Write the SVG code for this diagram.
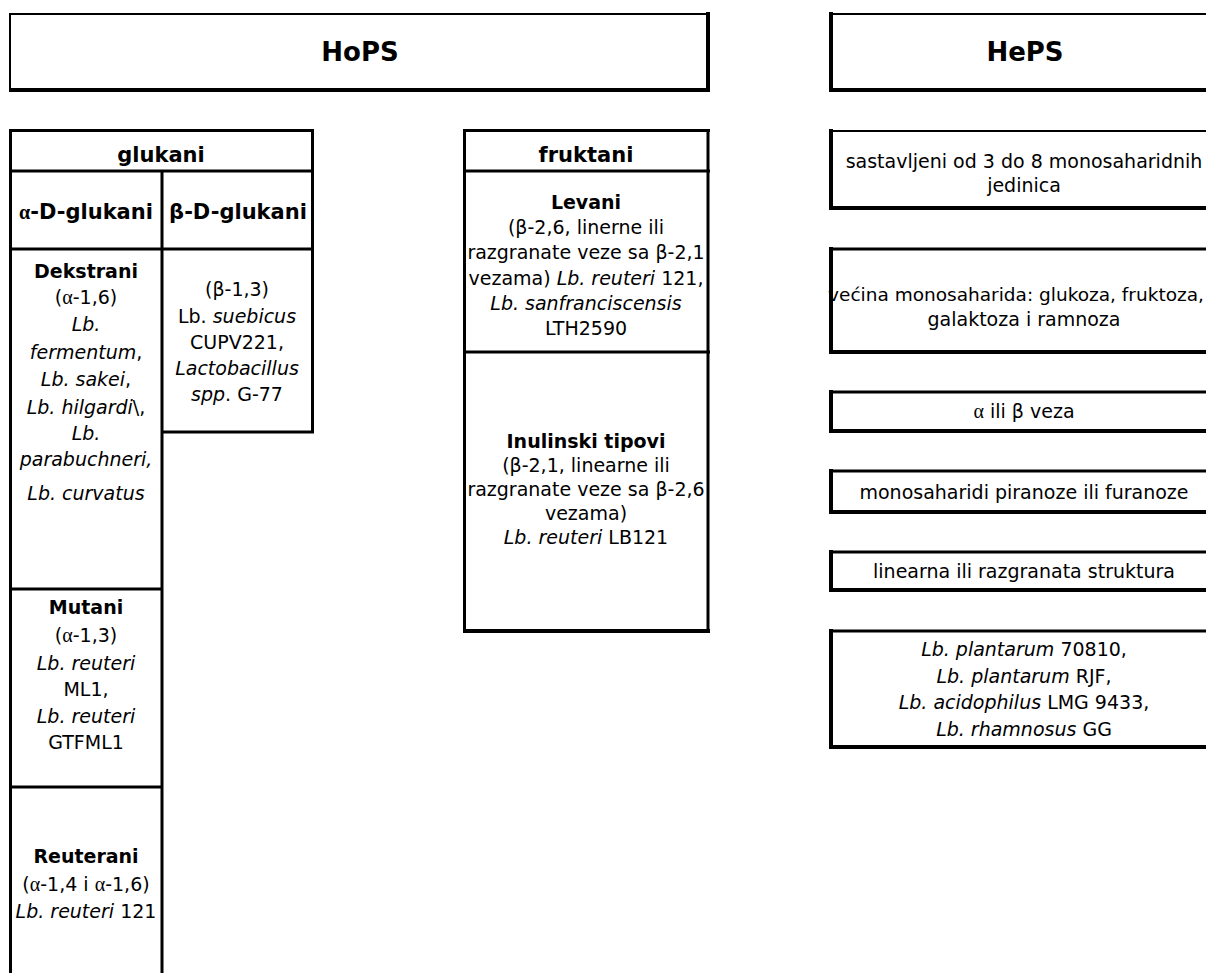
<svg xmlns="http://www.w3.org/2000/svg" width="1206" height="973" viewBox="0 0 1206 973">
<style>
text{font-family:"DejaVu Sans","Liberation Sans",sans-serif;font-size:19px;fill:#000;text-anchor:middle}
.b{font-weight:bold}
.h{font-weight:bold;font-size:21px}
.t{font-weight:bold;font-size:26px}
.i{font-style:italic}
.a{font-family:"Liberation Serif",serif;font-size:20px;font-style:normal}
.n{font-style:normal}
line,path{stroke:#000;fill:none}
.s2{stroke-width:2}
.s3{stroke-width:3}
.s4{stroke-width:4}
</style>
<rect width="1206" height="973" fill="#fff"/>

<g id="hops">
<path class="s2" d="M10 14H708M10 13V92"/>
<path class="s4" d="M708 12V92M9 90H710"/>
<text class="t" x="360" y="61">HoPS</text>
</g>

<g id="heps">
<path class="s2" d="M831 14H1220"/>
<path class="s4" d="M831 12V92M829 90H1220"/>
<text class="t" x="1025" y="61">HePS</text>
</g>

<g id="glukani">
<path class="s3" d="M9 130.5H314M10.5 129V973M312.5 129V433.5M9 171H314M9 249H314M162 171V973M162 432H314M9 589H163M9 787H163"/>
<text class="h" x="161" y="162">glukani</text>
</g>

<g id="alfa-d-glukani">
<text class="h" x="86" y="219"><tspan class="a">α</tspan>-D-glukani</text>
</g>

<g id="beta-d-glukani">
<text class="h" x="238" y="219">β-D-glukani</text>
</g>

<g id="dekstrani">
<text class="b" x="86" y="278">Dekstrani</text>
<text x="86" y="304">(<tspan class="a">α</tspan>-1,6)</text>
<text class="i" x="86" y="331">Lb.</text>
<text x="86" y="359"><tspan class="i">fermentum</tspan>,</text>
<text x="86" y="386"><tspan class="i">Lb. sakei</tspan>,</text>
<text x="86" y="414"><tspan class="i">Lb. hilgardi</tspan>\,</text>
<text class="i" x="86" y="440">Lb.</text>
<text class="i" x="86" y="466">parabuchneri,</text>
<text class="i" x="86" y="500">Lb. curvatus</text>
</g>

<g id="beta-glukani-vrste">
<text x="237" y="296">(β-1,3)</text>
<text x="237" y="323">Lb. <tspan class="i">suebicus</tspan></text>
<text x="237" y="349">CUPV221,</text>
<text class="i" x="237" y="375">Lactobacillus</text>
<text x="237" y="401"><tspan class="i">spp</tspan>. G-77</text>
</g>

<g id="mutani">
<text class="b" x="86" y="614">Mutani</text>
<text x="86" y="642">(<tspan class="a">α</tspan>-1,3)</text>
<text class="i" x="86" y="670">Lb. reuteri</text>
<text x="86" y="696">ML1,</text>
<text class="i" x="86" y="723">Lb. reuteri</text>
<text x="86" y="749">GTFML1</text>
</g>

<g id="reuterani">
<text class="b" x="86" y="863">Reuterani</text>
<text x="86" y="891">(<tspan class="a">α</tspan>-1,4 i <tspan class="a">α</tspan>-1,6)</text>
<text x="86" y="918"><tspan class="i">Lb. reuteri</tspan> 121</text>
</g>

<g id="fruktani">
<path class="s3" d="M463 130.5H710M464.5 129V633M708 129V633M463 171H710M463 352H710"/>
<path class="s4" d="M463 631H710"/>
<text class="h" x="586" y="162">fruktani</text>
</g>

<g id="levani">
<text class="b" x="586" y="209">Levani</text>
<text x="586" y="234">(β-2,6, linerne ili</text>
<text x="586" y="259">razgranate veze sa β-2,1</text>
<text x="586" y="285">vezama) <tspan class="i">Lb. reuteri</tspan> 121,</text>
<text class="i" x="586" y="310">Lb. sanfranciscensis</text>
<text x="586" y="335">LTH2590</text>
</g>

<g id="inulinski">
<text class="b" x="586" y="448">Inulinski tipovi</text>
<text x="586" y="472">(β-2,1, linearne ili</text>
<text x="586" y="496">razgranate veze sa β-2,6</text>
<text x="586" y="520">vezama)</text>
<text x="586" y="544"><tspan class="i">Lb. reuteri</tspan> LB121</text>
</g>

<g id="heps-1">
<path class="s2" d="M831 131H1220"/>
<path class="s4" d="M831 129V210M829 208H1220"/>
<text x="1024" y="168">sastavljeni od 3 do 8 monosaharidnih</text>
<text x="1024" y="192">jedinica</text>
</g>

<g id="heps-2">
<path class="s3" d="M831 249H1220"/>
<path class="s4" d="M831 247V354M829 352H1220"/>
<text x="1016" y="301" style="font-size:18.5px">većina monosaharida: glukoza, fruktoza,</text>
<text x="1024" y="326">galaktoza i ramnoza</text>
</g>

<g id="heps-3">
<path class="s3" d="M831 392H1220"/>
<path class="s4" d="M831 390V433M829 431H1220"/>
<text x="1024" y="418"><tspan class="a">α</tspan> ili β veza</text>
</g>

<g id="heps-4">
<path class="s3" d="M831 471H1220"/>
<path class="s4" d="M831 469V514M829 512H1220"/>
<text x="1024" y="499">monosaharidi piranoze ili furanoze</text>
</g>

<g id="heps-5">
<path class="s3" d="M831 552H1220"/>
<path class="s4" d="M831 550V592M829 590H1220"/>
<text x="1024" y="578">linearna ili razgranata struktura</text>
</g>

<g id="heps-6">
<path class="s3" d="M831 631H1220"/>
<path class="s4" d="M831 629V749M829 747H1220"/>
<text x="1024" y="656"><tspan class="i">Lb. plantarum</tspan> 70810,</text>
<text x="1024" y="683"><tspan class="i">Lb. plantarum</tspan> RJF,</text>
<text x="1024" y="709"><tspan class="i">Lb. acidophilus</tspan> LMG 9433,</text>
<text x="1024" y="736"><tspan class="i">Lb. rhamnosus</tspan> GG</text>
</g>

<g id="connectors"></g>
</svg>
